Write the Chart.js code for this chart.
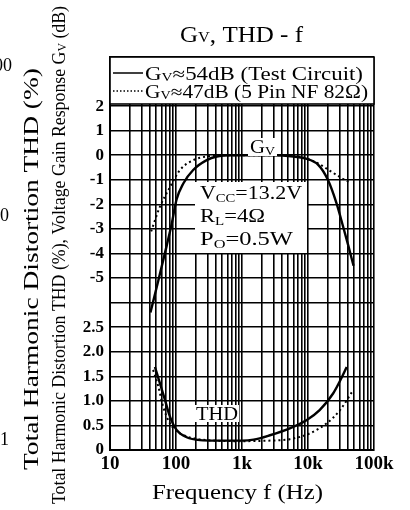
<!DOCTYPE html>
<html>
<head>
<meta charset="utf-8">
<script src="https://cdn.jsdelivr.net/npm/chart.js@4.4.0/dist/chart.umd.min.js"></script>
<style>
  html, body { margin: 0; padding: 0; background: #fff; }
  #wrap { width: 410px; height: 510px; }
</style>
</head>
<body>
<div id="wrap"><canvas id="myChart" width="410" height="510"></canvas></div>
<script>
// 주파수 (Hz) 와 값 - 그림에서 읽은 값
var gvFreq1 = [41, 54, 72, 86, 102, 129, 182, 292, 414, 700, 1500, 3000, 6000, 9000, 14400, 20000, 27000, 34000, 41000, 49000];
var gvSolid = [-6.4, -5.1, -3.7, -2.8, -1.8, -1.15, -0.6, -0.2, -0.05, 0, 0, 0, -0.05, -0.13, -0.4, -1.0, -1.95, -2.9, -3.7, -4.5];

var gvFreq2 = [42, 57, 81, 115, 182, 292, 500, 1000, 3000, 7000, 10000, 14400, 22900, 36000, 43000];
var gvDotted = [-3.1, -2.1, -1.3, -0.6, -0.2, -0.05, 0, 0, 0, -0.05, -0.15, -0.34, -0.68, -1.0, -1.1];

var thdFreq1 = [48, 57, 68, 81, 102, 145, 231, 400, 1000, 1500, 2650, 5300, 9600, 15000, 24000, 32000, 38600];
var thdSolid = [1.69, 1.36, 1.02, 0.68, 0.41, 0.26, 0.2, 0.19, 0.19, 0.21, 0.3, 0.44, 0.61, 0.81, 1.15, 1.46, 1.69];

var thdFreq2 = [45, 54, 64, 81, 115, 182, 400, 1000, 2500, 5300, 10700, 19000, 30500, 48500];
var thdDotted = [1.63, 1.29, 0.88, 0.54, 0.34, 0.24, 0.19, 0.18, 0.19, 0.22, 0.34, 0.54, 0.81, 1.22];

// 눈금 라벨
var freqTicks = [10, 100, 1000, 10000, 100000];
var freqTickLabels = ['10', '100', '1k', '10k', '100k'];
var thdTickLabels = ['0', '0.5', '1.0', '1.5', '2.0', '2.5'];
var gvTickLabels = ['-5', '-4', '-3', '-2', '-1', '0', '1', '2'];

// 한 축에 두 그래프: 격자 한 칸 = 1 단위
var GV_ZERO_ROW = 12;   // Gv 0dB 위치
var THD_PER_ROW = 0.5;  // THD 한 칸 = 0.5%

var SERIF = '"Liberation Serif", "DejaVu Serif", serif';

function toPoints(freqs, vals, fn) {
    return freqs.map(function(f, i) { return {x: f, y: fn(vals[i])}; });
}
function gvRow(g) { return g + GV_ZERO_ROW; }
function thdRow(t) { return t / THD_PER_ROW; }

// 글자 조각 (아래첨자 포함) 그리기
function drawParts(c, parts, x, y) {
    parts.forEach(function(p) {
        c.font = p[1] + 'px ' + SERIF;
        c.fillText(p[0], x, y + (p[2] || 0));
        x += c.measureText(p[0]).width;
    });
    return x;
}
function partsWidth(c, parts) {
    var w = 0;
    parts.forEach(function(p) {
        c.font = p[1] + 'px ' + SERIF;
        w += c.measureText(p[0]).width;
    });
    return w;
}
// 정해진 폭에 맞춰 그리기
function drawFit(c, parts, x, y, len) {
    c.save();
    c.translate(x, y);
    c.scale(len / partsWidth(c, parts), 1);
    drawParts(c, parts, 0, 0);
    c.restore();
}
function verticalText(c, parts, cx, cy, len) {
    c.save();
    c.translate(cx, cy);
    c.rotate(-Math.PI / 2);
    var w = partsWidth(c, parts);
    c.scale(len / w, 1);
    c.textBaseline = 'middle';
    c.textAlign = 'left';
    drawParts(c, parts, -w / 2, 0);
    c.restore();
}

var whiteBg = {
    id: 'whiteBg',
    beforeDraw: function(chart) {
        var c = chart.ctx;
        c.save();
        c.fillStyle = '#fff';
        c.fillRect(0, 0, chart.width, chart.height);
        c.restore();
    }
};

var notes = {
    id: 'notes',
    afterDatasetsDraw: function(chart) {
        var c = chart.ctx, a = chart.chartArea;
        c.save();
        c.fillStyle = '#000';
        c.strokeStyle = '#000';
        c.textBaseline = 'alphabetic';
        c.textAlign = 'left';

        // 범례 상자
        c.fillStyle = '#fff';
        c.fillRect(a.left, a.top, a.right - a.left, 47);
        c.lineWidth = 1.6;
        c.strokeRect(a.left, a.top, a.right - a.left, 47);
        c.fillStyle = '#000';
        c.lineWidth = 1.5;
        c.beginPath(); c.moveTo(a.left + 3, 73); c.lineTo(a.left + 33, 73); c.stroke();
        c.setLineDash([1.5, 2]);
        c.beginPath(); c.moveTo(a.left + 3, 91); c.lineTo(a.left + 33, 91); c.stroke();
        c.setLineDash([]);
        drawFit(c, [['G', 18], ['V', 12, 1], ['≈54dB (Test Circuit)', 18]], a.left + 35, 80, 218);
        drawFit(c, [['G', 18], ['V', 12, 1], ['≈47dB (5 Pin NF 82Ω)', 18]], a.left + 35, 98, 223);

        // Gv 라벨
        c.fillStyle = '#fff';
        c.fillRect(248, 138, 29, 18);
        c.fillStyle = '#000';
        drawFit(c, [['G', 18], ['V', 12, 2]], 250, 153, 25);

        // 조건 상자
        c.fillStyle = '#fff';
        c.fillRect(195, 182, 112, 71);
        c.fillStyle = '#000';
        drawFit(c, [['V', 18], ['CC', 12, 3], ['=13.2V', 18]], 200, 199, 102);
        drawFit(c, [['R', 18], ['L', 12, 3], ['=4Ω', 18]], 200, 222, 65);
        drawFit(c, [['P', 18], ['O', 12, 3], ['=0.5W', 18]], 200, 245, 93);

        // THD 라벨
        c.fillStyle = '#fff';
        c.fillRect(195, 405, 44, 17);
        c.fillStyle = '#000';
        drawFit(c, [['THD', 18]], 196, 420, 42);
        c.restore();
    },
    afterDraw: function(chart) {
        var c = chart.ctx;
        c.save();
        c.fillStyle = '#000';
        c.textBaseline = 'alphabetic';
        c.textAlign = 'left';
        // 제목
        drawFit(c, [['G', 23], ['V', 15, 0], [', THD - f', 23]], 180, 42, 123);

        // 세로 축 제목 두 개
        verticalText(c, [['Total Harmonic Distortion THD (%)', 22]], 32, 269, 402);
        verticalText(c, [['Total Harmonic Distortion THD (%), Voltage Gain Response G', 18], ['V', 12, 3], [' (dB)', 18]], 60, 255, 498);

        // 왼쪽 끝에 잘린 눈금 라벨
        c.font = '18px ' + SERIF;
        c.textAlign = 'right';
        c.textBaseline = 'middle';
        c.fillText('100', 12, 66);
        c.fillText('10', 9, 216);
        c.fillText('1', 9, 440);
        c.restore();
    }
};

var ctx = document.getElementById('myChart').getContext('2d');

var chart = new Chart(ctx, {
    type: 'line',
    data: {
        datasets: [
            {
                label: 'Gv=54dB (Test Circuit)',
                data: toPoints(gvFreq1, gvSolid, gvRow),
                borderColor: '#000',
                borderWidth: 2.4
            },
            {
                label: 'Gv=47dB (5 Pin NF 82Ω)',
                data: toPoints(gvFreq2, gvDotted, gvRow),
                borderColor: '#000',
                borderWidth: 2,
                borderDash: [2, 3]
            },
            {
                label: 'THD 54dB',
                data: toPoints(thdFreq1, thdSolid, thdRow),
                borderColor: '#000',
                borderWidth: 2.4
            },
            {
                label: 'THD 47dB',
                data: toPoints(thdFreq2, thdDotted, thdRow),
                borderColor: '#000',
                borderWidth: 2,
                borderDash: [2, 3]
            }
        ]
    },
    options: {
        responsive: false,
        animation: false,
        devicePixelRatio: 1,
        layout: { padding: { left: 0, right: 36, top: 57, bottom: 0 } },
        elements: {
            point: { radius: 0 },
            line: { cubicInterpolationMode: 'monotone', fill: false }
        },
        plugins: {
            legend: { display: false },
            title: { display: false },
            tooltip: { enabled: false }
        },
        scales: {
            x: {
                type: 'logarithmic',
                min: 10,
                max: 100000,
                afterBuildTicks: function(s) {
                    var t = [];
                    for (var d = 10; d < 100000; d *= 10) {
                        for (var k = 1; k < 10; k++) t.push({value: d * k});
                    }
                    t.push({value: 100000});
                    s.ticks = t;
                },
                afterFit: function(s) { s.height = 60; },
                grid: { color: '#000', lineWidth: 1.6, drawTicks: false },
                border: { color: '#000', width: 2 },
                ticks: {
                    autoSkip: false,
                    maxRotation: 0,
                    padding: 3,
                    color: '#000',
                    font: { family: SERIF, size: 19, weight: 'bold' },
                    callback: function(v) {
                        var i = freqTicks.indexOf(v);
                        return i >= 0 ? freqTickLabels[i] : '';
                    }
                }
            },
            y: {
                type: 'linear',
                min: 0,
                max: 16,
                afterFit: function(s) { s.width = 110; },
                grid: { color: '#000', lineWidth: 1.6, drawTicks: false },
                border: { color: '#000', width: 2 },
                ticks: {
                    stepSize: 1,
                    autoSkip: false,
                    padding: 6,
                    color: '#000',
                    font: { family: SERIF, size: 17, weight: 'bold' },
                    callback: function(v) {
                        if (v <= 5) return thdTickLabels[v];
                        if (v >= 7 && v <= 14) return gvTickLabels[v - 7];
                        return '';
                    }
                }
            }
        }
    },
    plugins: [whiteBg, notes, {
        id: 'xTitle',
        afterDraw: function(chart) {
            var c = chart.ctx;
            c.save();
            c.fillStyle = '#000';
            c.textBaseline = 'alphabetic';
            drawFit(c, [['Frequency f (Hz)', 22]], 152, 499, 171);
            c.restore();
        }
    }]
});
</script>
</body>
</html>
